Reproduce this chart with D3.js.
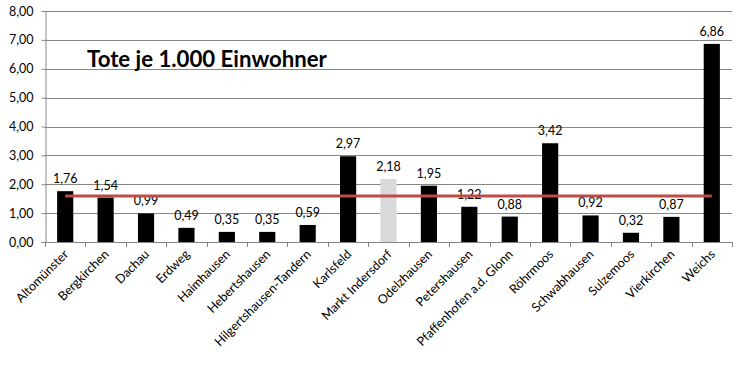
<!DOCTYPE html>
<html><head><meta charset="utf-8">
<script src="https://cdn.jsdelivr.net/npm/d3@7"></script>
<style>html,body{margin:0;padding:0;background:#fff;}svg{display:block;font-family:Lato,"Open Sans",sans-serif;}</style>
</head><body>
<svg id="chart" width="744" height="365"></svg>
<script>
const categories = ["Altomünster","Bergkirchen","Dachau","Erdweg","Haimhausen","Hebertshausen","Hilgertshausen-Tandern","Karlsfeld","Markt Indersdorf","Odelzhausen","Petershausen","Pfaffenhofen a.d. Glonn","Röhrmoos","Schwabhausen","Sulzemoos","Vierkirchen","Weichs"];
const values = [1.76,1.54,0.99,0.49,0.35,0.35,0.59,2.97,2.18,1.95,1.22,0.88,3.42,0.92,0.32,0.87,6.86];
const average = [1.59,1.59,1.59,1.59,1.59,1.59,1.59,1.59,1.59,1.59,1.59,1.59,1.59,1.59,1.59,1.59,1.59];
const highlighted = ["Markt Indersdorf"];
const yTicks = [0,1,2,3,4,5,6,7,8];
const title = "Tote je 1.000 Einwohner";

const svg = d3.select("#chart");
const mLeft = 45, mRight = 732, mTop = 11, mBottom = 242;
const x = d3.scaleBand().domain(categories).range([mLeft, mRight]).paddingInner(0.6).paddingOuter(0.3);
const y = d3.scaleLinear().domain([0, 8]).range([mBottom, mTop]);
const fmt = v => d3.format(".2f")(v).replace(".", ",");
const grey = "#868686";
const fs = 12.5;

// gridlines
svg.append("g").selectAll("line").data(yTicks.filter(t => t > 0)).join("line")
  .attr("x1", mLeft).attr("x2", mRight).attr("y1", d => Math.round(y(d)) + 0.5).attr("y2", d => Math.round(y(d)) + 0.5)
  .attr("stroke", grey).attr("stroke-width", 1);

// y axis
const yAxis = svg.append("g").attr("transform", `translate(${mLeft + 0.5},0)`)
  .call(d3.axisLeft(y).tickValues(yTicks).tickFormat(fmt).tickSize(4).tickPadding(8));
yAxis.select(".domain").attr("stroke", grey);
yAxis.selectAll(".tick line").attr("stroke", grey);
yAxis.selectAll(".tick text").attr("font-size", fs).attr("fill", "#000").attr("font-family", "Lato,'Open Sans',sans-serif");

// title
svg.append("text").attr("x", 87).attr("y", 67).text(title)
  .attr("font-size", 22.2).attr("font-weight", "bold").attr("fill", "#000");

// bars
svg.append("g").selectAll("rect").data(categories).join("rect")
  .attr("x", d => x(d)).attr("width", x.bandwidth())
  .attr("y", (d, i) => y(values[i])).attr("height", (d, i) => y(0) - y(values[i]))
  .attr("fill", d => highlighted.includes(d) ? "#d9d9d9" : "#000");

// value labels
svg.append("g").selectAll("text").data(categories).join("text")
  .attr("x", d => x(d) + x.bandwidth() / 2).attr("y", (d, i) => y(values[i]) - 8)
  .attr("text-anchor", "middle").attr("font-size", fs).attr("fill", "#000")
  .text((d, i) => fmt(values[i]));

// average line
const line = d3.line().x(d => x(d[0]) + x.bandwidth() / 2).y(d => y(d[1]));
svg.append("path").datum(categories.map((c, i) => [c, average[i]]))
  .attr("d", line).attr("fill", "none").attr("stroke", "#be4b48").attr("stroke-width", 3);

// x axis
const xAxis = svg.append("g").attr("transform", `translate(0,${mBottom + 0.5})`)
  .call(d3.axisBottom(x).tickSize(0).tickFormat(""));
xAxis.select(".domain").attr("stroke", grey).attr("d", `M${mLeft},0H${mRight}`);
xAxis.selectAll(".tick").remove();
const step = x.step();
const bounds = d3.range(categories.length + 1).map(i => mLeft + i * step);
svg.append("g").selectAll("line").data(bounds).join("line")
  .attr("x1", d => Math.round(d) + 0.5).attr("x2", d => Math.round(d) + 0.5)
  .attr("y1", mBottom).attr("y2", mBottom + 5).attr("stroke", grey);

svg.append("g").selectAll("text").data(categories).join("text")
  .attr("transform", d => `translate(${x(d) + x.bandwidth() / 2 + 4},${mBottom + 13}) rotate(-45)`)
  .attr("text-anchor", "end").attr("font-size", fs).attr("fill", "#000")
  .text(d => d);
</script>
</body></html>
